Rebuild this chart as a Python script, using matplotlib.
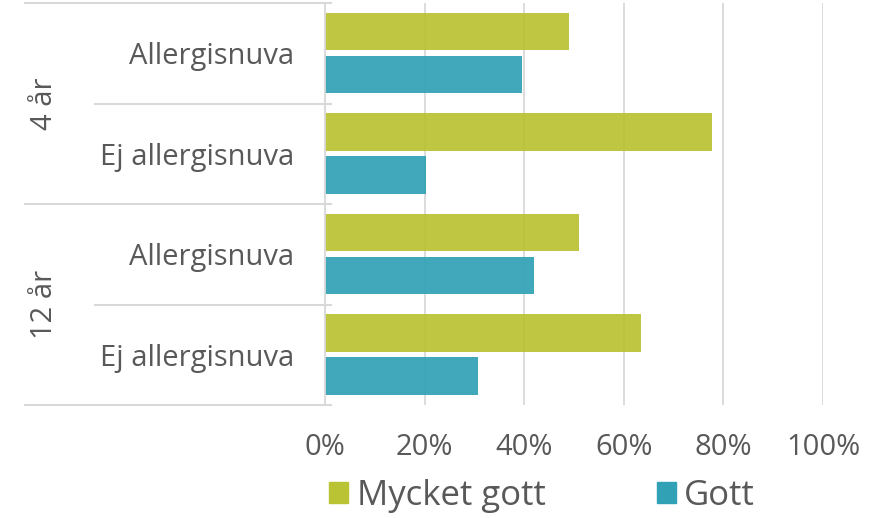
import numpy as np
import matplotlib.pyplot as plt
import matplotlib.transforms as mtransforms
from matplotlib.patches import Patch

# data
categories = ['Allergisnuva', 'Ej allergisnuva', 'Allergisnuva', 'Ej allergisnuva']
groups = ['4 år', '12 år']
mycket_gott = [49, 77.7, 51, 63.5]
gott = [39.5, 20.3, 42, 30.8]
xticks = [0, 20, 40, 60, 80, 100]
xtick_labels = ['0%', '20%', '40%', '60%', '80%', '100%']
series_names = ['Mycket gott', 'Gott']

green = '#bac333'
blue = '#31a2b5'
text_col = '#595959'
grid_col = '#d9d9d9'

plt.rcParams['font.family'] = ['Open Sans', 'DejaVu Sans']

W, H = 887, 518
fig = plt.figure(figsize=(W / 100, H / 100), dpi=100)
left, right, top, bottom = 325, 823, 3, 405
ax = fig.add_axes([left / W, 1 - bottom / H, (right - left) / W, (bottom - top) / H])

y = np.arange(len(categories))
h = 0.375
ax.barh(y - 0.215, mycket_gott, height=h, color=green, alpha=0.93, zorder=2)
ax.barh(y + 0.21, gott, height=h, color=blue, alpha=0.93, zorder=2)

ax.set_xlim(0, 100)
ax.set_ylim(len(categories) - 0.5, -0.5)
ax.set_xticks(xticks)
ax.set_xticklabels(xtick_labels)
ax.set_yticks(y)
ax.set_yticklabels(categories)
ax.tick_params(axis='x', length=0, pad=20, labelsize=21, labelcolor=text_col)
ax.tick_params(axis='y', length=0, pad=22, labelsize=21, labelcolor=text_col)
ax.xaxis.grid(True, color=grid_col, lw=1.3, zorder=0)
ax.set_axisbelow(True)
for s in ['top', 'right', 'bottom']:
    ax.spines[s].set_visible(False)
ax.spines['left'].set_color(grid_col)
ax.spines['left'].set_linewidth(1.3)

# separator lines for categories and groups
trans = mtransforms.blended_transform_factory(ax.transAxes, ax.transData)
x_grp = (25 - left) / (right - left)
x_cat = (95 - left) / (right - left)
x_end = (331 - left) / (right - left)
for b in np.arange(-0.5, len(categories), 1):
    x0 = x_grp if int(b + 0.5) % 2 == 0 else x_cat
    ax.plot([x0, x_end], [b, b], transform=trans, color=grid_col, lw=1.5,
            clip_on=False, zorder=1)

x_lab = (45 - left) / (right - left)
for i, g in enumerate(groups):
    ax.text(x_lab, 2 * i + 0.5, g, transform=trans, rotation=90, ha='center',
            va='center', fontsize=21, color=text_col)

handles = [Patch(color=green), Patch(color=blue)]
fig.legend(handles, series_names, loc='center', bbox_to_anchor=(0.611, 1 - 496 / H),
           ncol=2, frameon=False, fontsize=25, labelcolor=text_col,
           handlelength=0.55, handleheight=0.55, handletextpad=0.25,
           columnspacing=3.2, borderpad=0, borderaxespad=0)

fig.savefig('out.png', dpi=100)
